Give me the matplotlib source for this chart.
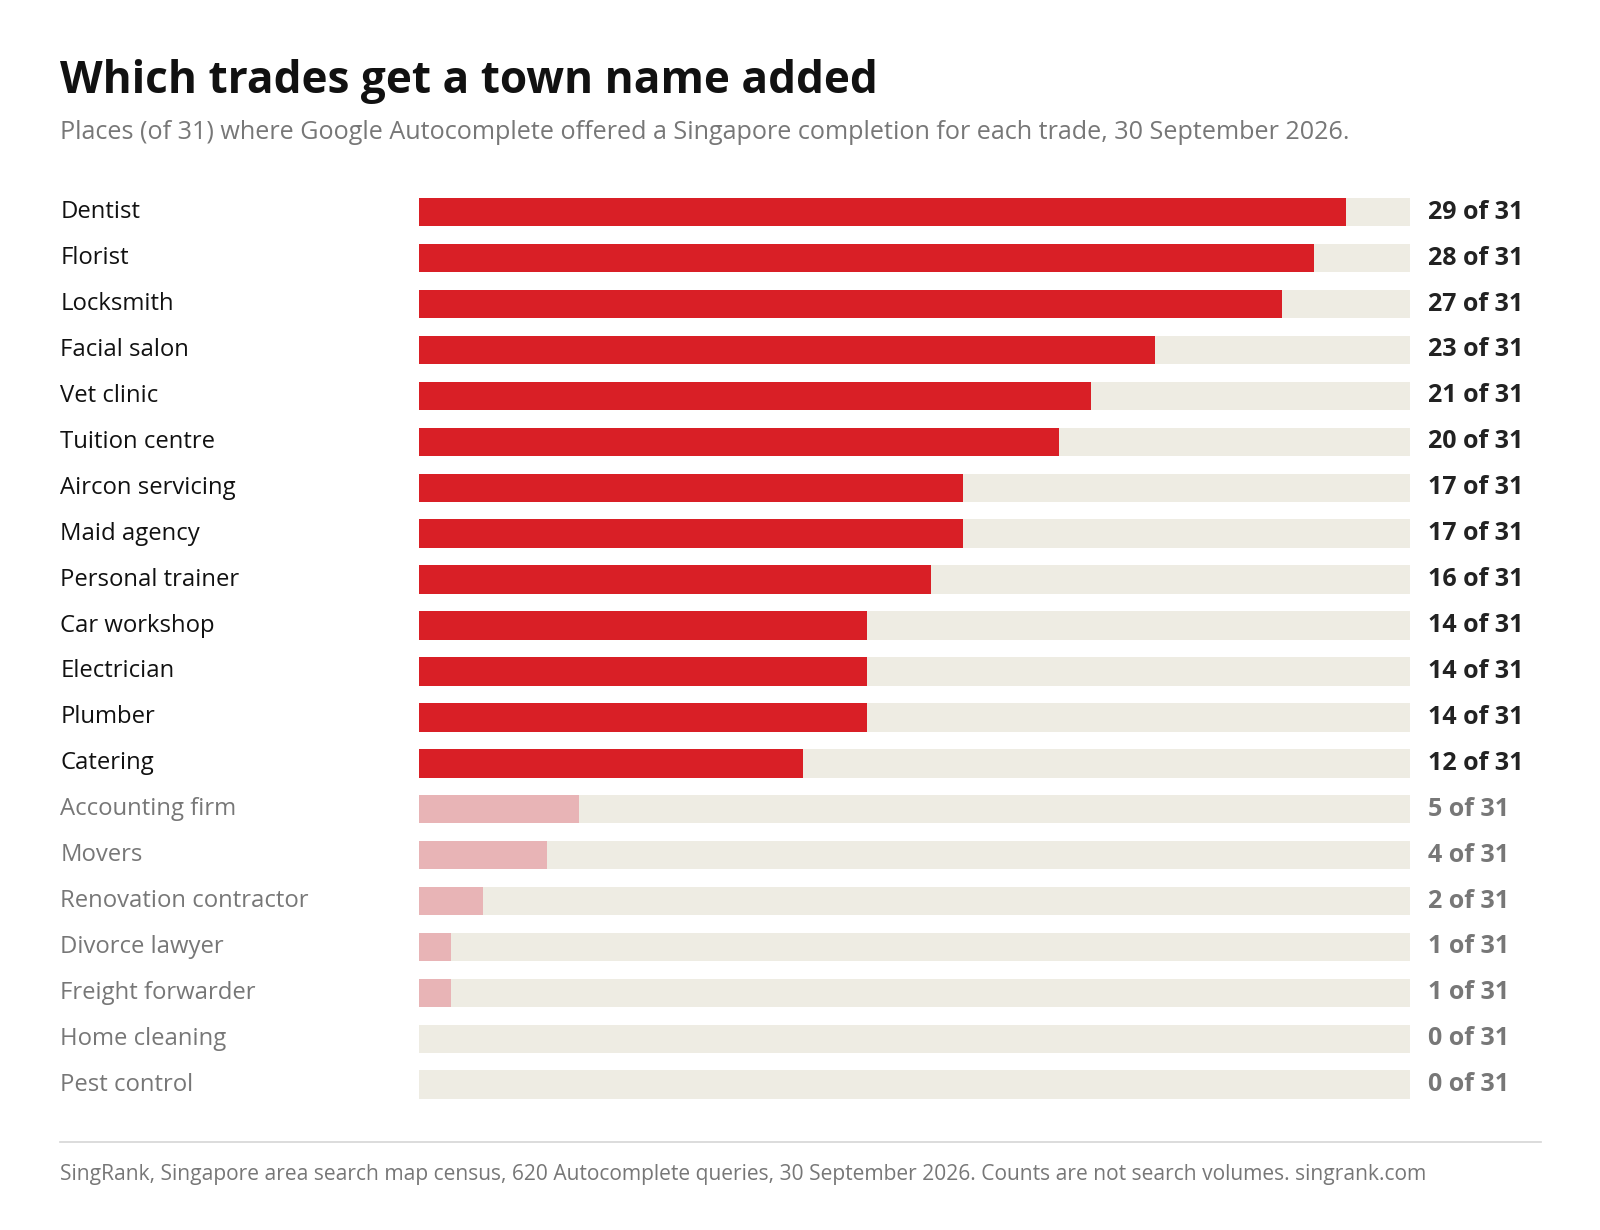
import matplotlib
matplotlib.use("Agg")
import matplotlib.pyplot as plt
from matplotlib.transforms import blended_transform_factory

plt.rcParams['font.family'] = ['Open Sans', 'DejaVu Sans']

trades = ["Dentist", "Florist", "Locksmith", "Facial salon", "Vet clinic",
          "Tuition centre", "Aircon servicing", "Maid agency", "Personal trainer",
          "Car workshop", "Electrician", "Plumber", "Catering", "Accounting firm",
          "Movers", "Renovation contractor", "Divorce lawyer", "Freight forwarder",
          "Home cleaning", "Pest control"]
counts = [29, 28, 27, 23, 21, 20, 17, 17, 16, 14, 14, 14, 12, 5, 4, 2, 1, 1, 0, 0]
total = 31
threshold = 10  # trades below this are shown muted

RED = "#D91F26"
PINK = "#E8B4B6"
TRACK = "#EEECE3"
DARK = "#111111"
GREY = "#777777"

W, H = 1600, 1230
S = 1600 / 1568  # reference was measured on a scaled view


def px(v):
    return v * S


fig = plt.figure(figsize=(W / 100, H / 100), dpi=100)
n = len(trades)
row = px(45)
top_px = px(208) - row / 2
bot_px = top_px + n * row
ax = fig.add_axes([px(411) / W, 1 - bot_px / H, (px(1382) - px(411)) / W, (n * row) / H])

y = list(range(n))
ax.barh(y, [total] * n, height=0.62, color=TRACK, zorder=1)
ax.barh(y, counts, height=0.62, color=[RED if c >= threshold else PINK for c in counts], zorder=2)
ax.set_xlim(0, total)
ax.set_ylim(n - 0.5, -0.5)
ax.axis("off")

tr = blended_transform_factory(fig.transFigure, ax.transData)
for i, (t, c) in enumerate(zip(trades, counts)):
    strong = c >= threshold
    col = DARK if strong else GREY
    ax.text(px(59) / W, i, t, transform=tr, ha="left", va="center", fontsize=17.2, color=col)
    ax.text(px(1399) / W, i, f"{c} of {total}", transform=tr, ha="left", va="center",
            fontsize=18, fontweight="bold", color="#222222" if strong else GREY)

fig.text(px(59) / W, 1 - px(80) / H, "Which trades get a town name added", fontsize=31.8,
         fontweight="bold", color=DARK, ha="left", va="center")
fig.text(px(59) / W, 1 - px(130) / H,
         "Places (of 31) where Google Autocomplete offered a Singapore completion for each trade, 30 September 2026.",
         fontsize=18.1, color=GREY, ha="left", va="center")
fig.add_artist(plt.Line2D([px(59) / W, px(1510) / W], [1 - px(1119) / H] * 2, color="#D5D5D5", lw=1.2))
fig.text(px(59) / W, 1 - px(1151) / H,
         "SingRank, Singapore area search map census, 620 Autocomplete queries, 30 September 2026. Counts are not search volumes. singrank.com",
         fontsize=15.1, color=GREY, ha="left", va="center")

fig.savefig("out.png", dpi=100, facecolor="white")
